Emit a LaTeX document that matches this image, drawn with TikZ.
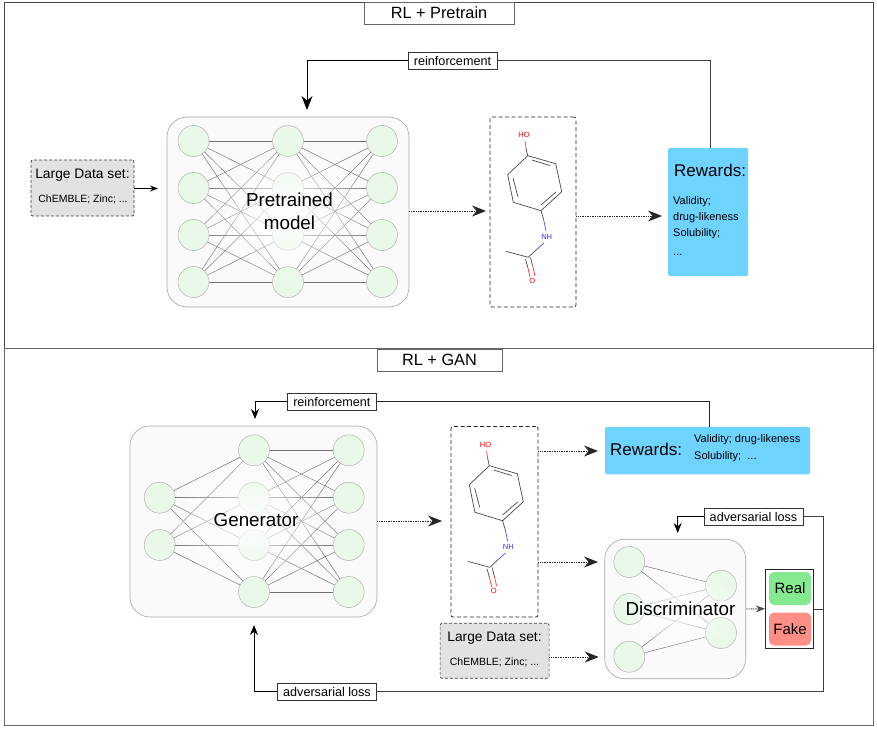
\documentclass[tikz,border=0pt]{standalone}
\usepackage{fontspec}
\setmainfont{Liberation Sans}
\usepackage{xcolor}
\usetikzlibrary{arrows,arrows.meta}
\usetikzlibrary{fadings}
\tikzset{>=latex}
\definecolor{framecol}{HTML}{444444}
\definecolor{neuroncol}{HTML}{E9F8E9}
\definecolor{rewardcol}{HTML}{6FD3FF}
\definecolor{datacol}{HTML}{E2E2E2}
\definecolor{realcol}{HTML}{85EA8F}
\definecolor{fakecol}{HTML}{FF8F86}
\colorlet{edgecol}{black!55}
\colorlet{molcol}{black!72}
\tikzfading[name=glow,inner color=transparent!5,outer color=transparent!100]
\tikzstyle{frame}=[draw=framecol,line width=0.8pt]
\tikzstyle{title}=[draw=black!60,fill=white,line width=0.9pt,inner sep=0pt,font=\fontsize{16.3}{19}\selectfont]
\tikzstyle{net}=[draw=black!35,fill=black!2,rounded corners=20pt,inner sep=0pt,line width=0.6pt]
\tikzstyle{neuron}=[circle,draw=black!30,fill=neuroncol,minimum size=31pt,inner sep=0pt,line width=0.5pt]
\tikzstyle{link}=[edgecol,line width=0.5pt]
\tikzstyle{tag}=[draw=black!80,fill=white,inner sep=0pt,line width=0.9pt,font=\fontsize{12.6}{14}\selectfont]
\tikzstyle{molbox}=[draw=black!85,dash pattern=on 4pt off 2.5pt,rounded corners=2pt,inner sep=0pt,line width=0.8pt]
\tikzstyle{databox}=[draw=black!75,dash pattern=on 3pt off 2pt,fill=datacol,rounded corners=2pt,inner sep=0pt,line width=0.7pt]
\tikzstyle{rewardbox}=[fill=rewardcol,rounded corners=1.5pt,inner sep=0pt]
\tikzstyle{dotarrow}=[->,dash pattern=on 1pt off 0.7pt,line width=0.9pt,black!85,>={Stealth[length=14pt,width=11pt]}]
\tikzstyle{feedback}=[line width=1pt,black!75]
\tikzstyle{big}=[font=\fontsize{17}{21}\selectfont,inner sep=0pt]
\tikzstyle{small}=[font=\fontsize{10.5}{16}\selectfont,inner sep=0pt]
\tikzstyle{listtext}=[font=\fontsize{11}{16}\selectfont,inner sep=0pt]
\tikzstyle{datatop}=[font=\fontsize{13.8}{16}\selectfont,inner sep=0pt]
\tikzstyle{netlabel}=[font=\fontsize{18.8}{23}\selectfont,inner sep=0pt]
\tikzstyle{bond}=[molcol,line width=0.7pt]
\tikzstyle{atom}=[font=\fontsize{7.5}{8}\selectfont,inner sep=0pt]

% one paracetamol sketch, #1 and #2 shift it
\newcommand{\molecule}[2]{
  \begin{scope}[shift={(#1,#2)}]
    \draw[bond] (527.7,155.7) -- (555.7,163.7) -- (561.7,191.7) -- (541,210.7)
                -- (513.3,202.3) -- (507.7,174.7) -- cycle;
    \draw[bond] (532,160) -- (550,165.5);
    \draw[bond] (556,192) -- (541,205);
    \draw[bond] (513,178) -- (518,197);
    \draw[bond] (527.7,155.7) -- (526,148);
    \draw[bond,red!80] (526,148) -- (525,141);
    \node[atom,red] (ho) at (524,135) {HO};
    \draw[bond] (541,210.7) -- (543.7,220);
    \draw[bond,blue!70] (543.7,220) -- (546,231);
    \node[atom,blue!80] (nh) at (546.7,237) {NH};
    \draw[bond,blue!70] (544,243) -- (536,250);
    \draw[bond] (536,250) -- (528.3,257.3) -- (506,251.3);
    \draw[bond] (525.5,259) -- (527.7,267);
    \draw[bond] (530.5,257.5) -- (532.7,266);
    \draw[bond,red!80] (527.7,267) -- (530,277);
    \draw[bond,red!80] (532.7,266) -- (535,276);
    \node[atom,red] (o) at (532.3,281) {O};
  \end{scope}
}

\begin{document}
\begin{tikzpicture}[x=1pt,y=-1pt]
  \useasboundingbox (0,0) rectangle (877,730);
  \fill[white] (0,0) rectangle (877,730);

  % the two panels
  \draw[frame] (4,2) rectangle (873,348);
  \draw[frame,draw=black!60] (4,348) rectangle (873,725);
  \node[title,minimum width=150pt,minimum height=22pt] (titleA) at (439,13) {RL + Pretrain};
  \node[title,minimum width=125pt,minimum height=22pt] (titleB) at (439.5,360) {RL + GAN};

  % upper panel
  \node[net,minimum width=242pt,minimum height=190pt] (pretrain) at (288,212) {};
  \foreach \y [count=\i] in {141,188,235,282} {
    \node[neuron] (pa\i) at (193.5,\y) {};
    \node[neuron] (pb\i) at (288,\y) {};
    \node[neuron] (pc\i) at (382,\y) {};
  }
  \foreach \i in {1,...,4}
    \foreach \j in {1,...,4} {
      \draw[link] (pa\i) -- (pb\j);
      \draw[link] (pb\i) -- (pc\j);
    }
  \fill[white,path fading=glow] (288,212) ellipse (95pt and 68pt);
  \node[netlabel,align=center] (pretrainlabel) at (289.5,211.5) {Pretrained\\model};

  \node[databox,minimum width=103pt,minimum height=56pt] (dataA) at (82.5,188) {};
  \node[datatop] (dataAtop) at (82.5,175) {Large Data set:};
  \node[small] (dataAsub) at (83,199) {ChEMBLE; Zinc; ...};

  \node[molbox,minimum width=86pt,minimum height=190pt] (molA) at (533,212) {};
  \molecule{0}{0}

  \node[rewardbox,minimum width=80pt,minimum height=128pt] (rewardA) at (708,212) {};
  \node[big,anchor=west] (rewardAtop) at (674,170) {Rewards:};
  \node[listtext,anchor=north west,align=left] (rewardAsub) at (673,196) {Validity;\\drug-likeness\\Solubility;\\[3pt]...};

  \node[tag,minimum width=89pt,minimum height=17pt] (reinfA) at (452.5,61) {reinforcement};
  \coordinate (intoA) at (307,110);
  \coordinate (upA) at (710,148);
  \draw[feedback] (upA) |- (reinfA);
  \draw[feedback,->,>={Stealth[length=14pt,width=11pt]},black] (reinfA) -| (intoA);

  \coordinate (dataAend) at (158,188.5);
  \draw[->,line width=0.9pt,>={Stealth[length=8pt,width=6pt]},black] (dataA.east |- dataAend) -- (dataAend);
  \coordinate (molAin) at (486,211);
  \draw[dotarrow] (pretrain.east |- molAin) -- (molAin);
  \coordinate (rewardAin) at (662,216);
  \draw[dotarrow] (molA.east |- rewardAin) -- (rewardAin);

  % lower panel, generator
  \node[net,minimum width=247pt,minimum height=191pt] (generator) at (253.5,521.5) {};
  \foreach \y [count=\i] in {497.7,545} {
    \node[neuron] (ga\i) at (159.7,\y) {};
  }
  \foreach \y [count=\i] in {450.3,497.7,545,592} {
    \node[neuron] (gb\i) at (254,\y) {};
    \node[neuron] (gc\i) at (348.7,\y) {};
  }
  \foreach \j in {1,...,4} {
    \draw[link] (ga1) -- (gb\j);
    \draw[link] (ga2) -- (gb\j);
    \foreach \i in {1,...,4}
      \draw[link] (gb\i) -- (gc\j);
  }
  \fill[white,path fading=glow] (254,521) ellipse (88pt and 62pt);
  \node[netlabel] (generatorlabel) at (256,520) {Generator};

  \node[molbox,minimum width=87pt,minimum height=190.5pt] (molB) at (494.5,521.75) {};
  \molecule{-38.4}{310}

  \node[rewardbox,minimum width=205pt,minimum height=47.5pt] (rewardB) at (707.5,450.5) {};
  \node[big,anchor=west] (rewardBtop) at (610,449) {Rewards:};
  \node[listtext,anchor=west] (rewardBsubA) at (694,440) {Validity; drug-likeness};
  \node[listtext,anchor=west] (rewardBsubB) at (694,457) {Solubility;\ \ ...};

  \node[databox,minimum width=109pt,minimum height=55pt] (dataB) at (494.6,650.8) {};
  \node[datatop] (dataBtop) at (494.5,637.7) {Large Data set:};
  \node[small] (dataBsub) at (494.5,662.7) {ChEMBLE; Zinc; ...};

  % discriminator
  \node[net,minimum width=141pt,minimum height=139.5pt] (discriminator) at (675.2,609) {};
  \foreach \y [count=\i] in {562,609,656.7} {
    \node[neuron] (da\i) at (629.3,\y) {};
  }
  \foreach \y [count=\i] in {585.7,633} {
    \node[neuron] (db\i) at (721,\y) {};
  }
  \foreach \i in {1,2,3}
    \foreach \j in {1,2}
      \draw[link] (da\i) -- (db\j);
  \fill[white,path fading=glow] (680,609) ellipse (62pt and 42pt);
  \node[netlabel] (discriminatorlabel) at (680.5,609) {Discriminator};

  \node[draw=black!85,fill=white,inner sep=0pt,line width=0.9pt,minimum width=48.5pt,minimum height=79.5pt] (verdict) at (789.5,608.7) {};
  \node[fill=realcol,rounded corners=5pt,inner sep=0pt,minimum width=42pt,minimum height=33pt,font=\fontsize{15}{18}\selectfont] (real) at (790,588.5) {Real};
  \node[fill=fakecol,rounded corners=5pt,inner sep=0pt,minimum width=42pt,minimum height=33pt,font=\fontsize{15}{18}\selectfont] (fake) at (790,629) {Fake};

  % feedback lines, lower panel
  \node[tag,minimum width=89.5pt,minimum height=17pt] (reinfB) at (331.8,401.7) {reinforcement};
  \coordinate (intoG) at (255,419);
  \coordinate (upB) at (709.5,426.7);
  \draw[feedback,black!85] (upB) |- (reinfB);
  \draw[feedback,->,>={Stealth[length=10pt,width=8pt]},black] (reinfB) -| (intoG);

  \node[tag,minimum width=99pt,minimum height=17pt] (advD) at (753.5,516.7) {adversarial loss};
  \node[tag,minimum width=99.5pt,minimum height=17pt] (advG) at (327,691.7) {adversarial loss};
  \coordinate (split) at (823,609);
  \coordinate (intoD) at (677.7,533);
  \coordinate (intoGb) at (254,625);
  \draw[feedback] (verdict.east |- split) -- (split);
  \draw[feedback] (split) |- (advD);
  \draw[feedback,->,>={Stealth[length=10pt,width=8pt]},black] (advD) -| (intoD);
  \draw[feedback] (split) |- (advG);
  \draw[feedback,->,>={Stealth[length=10pt,width=8pt]},black] (advG) -| (intoGb);

  % dotted arrows, lower panel
  \coordinate (molBin) at (442,521);
  \draw[dotarrow] (generator.east |- molBin) -- (molBin);
  \coordinate (rewardBin) at (598,451);
  \draw[dotarrow] (molB.east |- rewardBin) -- (rewardBin);
  \coordinate (discAin) at (598,562);
  \draw[dotarrow] (molB.east |- discAin) -- (discAin);
  \coordinate (discBin) at (598.7,657);
  \draw[dotarrow] (dataB.east |- discBin) -- (discBin);
  \draw[dotarrow,>={Stealth[length=9pt,width=7pt]},black!70] (discriminator.east) -- (verdict.west);
\end{tikzpicture}
\end{document}
